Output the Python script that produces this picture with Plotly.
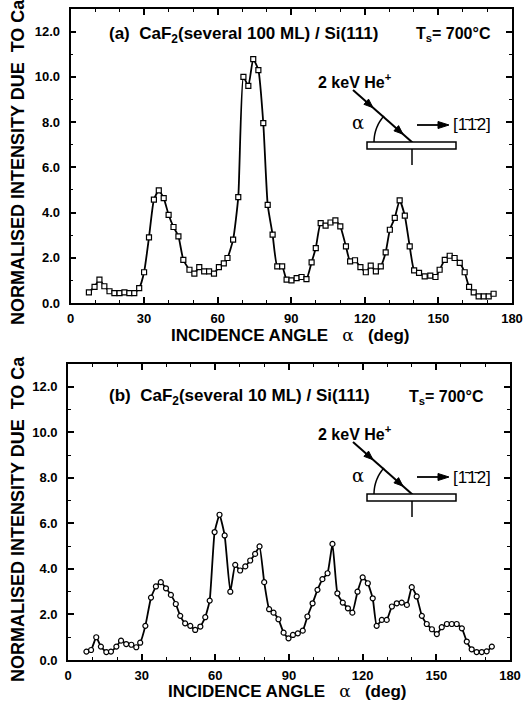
import numpy as np
import plotly.graph_objects as go

# ---------------- data ----------------
angle_a = [7.5, 9.8, 11.8, 13.8, 15.9, 17.9, 20, 22, 24, 26, 28, 30, 32, 34, 36, 38, 40, 42, 44, 46,
           48.5, 50.5, 52.5, 54.5, 56.5, 58.5, 60.5, 62.5, 64, 66.3, 68.4, 70.5, 72.5, 74.5, 76.6, 78.6,
           80.4, 82.4, 84.3, 86.3, 88.1, 90.1, 92.2, 94.2, 96.2, 98.3, 100, 102, 104, 106, 108, 110,
           112.3, 114, 116, 118.2, 120.4, 122.4, 124.5, 126.5, 128.5, 130.2, 132.2, 134.2, 136.3, 138.3,
           140.1, 142.1, 144.4, 146.7, 148.8, 150.5, 152.6, 154.6, 156.6, 158.7, 160.7, 162.5, 164.4,
           166.4, 168.5, 170.5, 172.5]
intensity_a = [0.47, 0.71, 1.03, 0.74, 0.52, 0.44, 0.44, 0.47, 0.44, 0.44, 0.66, 1.36, 2.9, 4.57, 4.98,
               4.64, 3.9, 3.36, 2.95, 1.91, 1.47, 1.3, 1.59, 1.4, 1.4, 1.3, 1.59, 1.75, 1.99, 2.8, 4.68,
               10.0, 9.6, 10.78, 10.3, 7.95, 4.34, 3.02, 1.62, 1.62, 1.03, 1.0, 1.1, 1.15, 1.06, 1.8,
               2.43, 3.53, 3.42, 3.56, 3.65, 3.39, 2.5, 1.84, 1.89, 1.59, 1.36, 1.65, 1.4, 1.62, 2.24,
               3.24, 3.76, 4.54, 3.86, 2.5, 1.44, 1.33, 1.18, 1.21, 1.15, 1.47, 1.91, 2.09, 1.99, 1.77,
               1.36, 0.71, 0.47, 0.29, 0.29, 0.29, 0.41]

angle_b = [7.5, 9.4, 11.5, 13.4, 15.6, 17.5, 19.7, 21.6, 23.7, 25.8, 27.8, 29.4, 31.5, 33.8, 35.8, 37.8,
           39.9, 41.9, 43.9, 45.7, 47.7, 49.8, 51.8, 53.9, 55.9, 57.7, 59.7, 61.7, 63.8, 66.1, 68.1,
           70.1, 72.2, 74.2, 76.2, 78, 79.9, 81.9, 83.7, 85.7, 87.8, 89.8, 91.6, 93.6, 95.6, 97.5,
           99.6, 101.6, 103.6, 105.7, 107.7, 109.7, 111.9, 114, 115.8, 117.9, 120, 122.1, 124.1, 125.7,
           127.8, 129.8, 131.9, 133.9, 135.9, 138, 140, 142, 144.1, 146.1, 148.2, 150.2, 152.2, 154.3,
           156.3, 158.3, 160.4, 162.4, 164.4, 166.4, 168.5, 170.5, 172.6]
intensity_b = [0.37, 0.44, 1.0, 0.59, 0.35, 0.37, 0.59, 0.85, 0.7, 0.67, 0.56, 0.76, 1.5, 2.74, 3.23,
               3.42, 3.15, 2.86, 2.46, 1.94, 1.61, 1.5, 1.32, 1.47, 1.88, 2.61, 5.62, 6.38, 5.47, 3.0,
               4.18, 3.93, 4.11, 4.37, 4.66, 4.99, 3.42, 2.23, 2.08, 1.79, 1.2, 0.95, 1.1, 1.17, 1.29,
               1.91, 2.49, 3.08, 3.55, 3.81, 5.1, 2.93, 2.52, 2.27, 2.08, 3.0, 3.63, 3.37, 2.71, 1.5,
               1.76, 1.76, 2.35, 2.49, 2.52, 2.42, 3.2, 2.79, 1.94, 1.58, 1.35, 1.14, 1.44, 1.58, 1.58,
               1.58, 1.39, 0.81, 0.47, 0.35, 0.35, 0.38, 0.59]

x_tick_vals = [0, 30, 60, 90, 120, 150, 180]
x_tick_text = ["0", "30", "60", "90", "120", "150", "180"]
y_tick_vals = [0, 2, 4, 6, 8, 10, 12]
y_tick_text = ["0.0", "2.0", "4.0", "6.0", "8.0", "10.0", "12.0"]

label_a = "(a)\u00a0\u00a0CaF<sub>2</sub>(several 100 ML) / Si(111)"
label_b = "(b)\u00a0\u00a0CaF<sub>2</sub>(several 10 ML) / Si(111)"
temp_label = "T<sub>s</sub>= 700°C"
y_title = "NORMALISED INTENSITY DUE\u00a0\u00a0TO Ca"
x_title = ("INCIDENCE ANGLE\u00a0\u00a0\u00a0<span style='font-family:DejaVu Serif;font-weight:normal'>α</span>"
           "\u00a0\u00a0\u00a0(deg)")

# ---------------- layout geometry ----------------
W, H = 531, 709
FONT = "Liberation Sans"
box_a = dict(l=70.5, r=512, t=9, b=303)
box_b = dict(l=68, r=510, t=364, b=660)


def dom(box):
    return [box["l"] / W, box["r"] / W], [1 - box["b"] / H, 1 - box["t"] / H]


fig = go.Figure()

fig.add_trace(go.Scatter(
    x=angle_a, y=intensity_a, mode="lines+markers", xaxis="x", yaxis="y",
    line=dict(color="black", width=1.8, shape="spline", smoothing=0.5),
    marker=dict(symbol="square", size=5, color="white", line=dict(color="black", width=1.2)),
    showlegend=False, hoverinfo="skip"))
fig.add_trace(go.Scatter(
    x=angle_b, y=intensity_b, mode="lines+markers", xaxis="x2", yaxis="y2",
    line=dict(color="black", width=1.8, shape="spline", smoothing=0.4),
    marker=dict(symbol="circle", size=5, color="white", line=dict(color="black", width=1.2)),
    showlegend=False, hoverinfo="skip"))

tickfont = dict(family=FONT, size=13, color="black", weight="bold")


def xaxis(domain, anchor):
    return dict(domain=domain, anchor=anchor, range=[0, 180], tickmode="array",
                tickvals=x_tick_vals, ticktext=x_tick_text, ticks="inside", ticklen=6,
                tickwidth=1.5, tickcolor="black", showline=True, linecolor="black", linewidth=1.8,
                mirror="ticks", showgrid=False, zeroline=False, tickfont=tickfont,
                ticklabelstandoff=2, automargin=False,
                minor=dict(tickmode="linear", tick0=0, dtick=10, ticks="inside", ticklen=3,
                           tickwidth=1.2, tickcolor="black", showgrid=False))


def yaxis(domain, anchor):
    return dict(domain=domain, anchor=anchor, range=[0, 13], tickmode="array",
                tickvals=y_tick_vals, ticktext=y_tick_text, ticks="inside", ticklen=6,
                tickwidth=1.5, tickcolor="black", showline=True, linecolor="black", linewidth=1.8,
                mirror="ticks", showgrid=False, zeroline=False, tickfont=tickfont,
                ticklabelstandoff=6, automargin=False,
                minor=dict(tickmode="linear", tick0=0, dtick=1, ticks="inside", ticklen=3,
                           tickwidth=1.2, tickcolor="black", showgrid=False))


xd_a, yd_a = dom(box_a)
xd_b, yd_b = dom(box_b)

annotations = []
shapes = []


def triangle(tip, direction, length=9, half=3.5):
    d = np.array(direction, dtype=float)
    d /= np.linalg.norm(d)
    n = np.array([-d[1], d[0]])
    tip = np.array(tip, dtype=float)
    b = tip - length * d
    p1, p2 = b + half * n, b - half * n
    return (f"M {tip[0]:.2f},{tip[1]:.2f} L {p1[0]:.2f},{p1[1]:.2f} "
            f"L {p2[0]:.2f},{p2[1]:.2f} Z")


for box, xr, yr in [(box_a, "x", "y"), (box_b, "x2", "y2")]:
    xdr, ydr = xr + " domain", yr + " domain"
    pw, ph = box["r"] - box["l"], box["b"] - box["t"]
    # panel header labels
    lbl = label_a if xr == "x" else label_b
    hy = 35 if xr == "x" else 397
    annotations.append(dict(text=lbl, xref=xdr, yref=ydr, x=(107 - box["l"]) / pw,
                            y=(box["b"] - hy) / ph, xanchor="left", yanchor="middle",
                            showarrow=False,
                            font=dict(family=FONT, size=17, color="black", weight="bold")))
    tx = 414 if xr == "x" else 407
    annotations.append(dict(text=temp_label, xref=xdr, yref=ydr, x=(tx - box["l"]) / pw,
                            y=(box["b"] - hy) / ph, xanchor="left", yanchor="middle",
                            showarrow=False,
                            font=dict(family=FONT, size=16, color="black", weight="bold")))

    # inset: anchored at the contact point of the beam on the surface (pixel geometry, y up)
    cx = 413
    cy = 143 if xr == "x" else 495
    fx, fy = (cx - box["l"]) / pw, (box["b"] - cy) / ph
    base = dict(xref=xdr, yref=ydr, xsizemode="pixel", ysizemode="pixel", xanchor=fx, yanchor=fy)
    # incoming beam
    shapes.append(dict(type="line", x0=-60, y0=53, x1=0, y1=0, line=dict(color="black", width=2), **base))
    # arrowheads on the beam
    for tip in [(-40, 35.3), (-10, 8.8)]:
        shapes.append(dict(type="path", path=triangle(tip, (60, -53)), fillcolor="black",
                           line=dict(color="black", width=1), **base))
    # sample
    shapes.append(dict(type="rect", x0=-46, x1=43, y0=1, y1=-6, line=dict(color="black", width=1.5),
                       fillcolor="white", **base))
    # normal below sample
    shapes.append(dict(type="line", x0=-1, x1=-1, y0=-6, y1=-22, line=dict(color="black", width=1.5), **base))
    # angle arc
    th = np.radians(np.linspace(180, 138, 12))
    pts = [(39 * np.cos(t), 39 * np.sin(t) + 1) for t in th]
    path = "M " + " L ".join(f"{px:.2f},{py:.2f}" for px, py in pts)
    shapes.append(dict(type="path", path=path, line=dict(color="black", width=1.5), **base))
    # direction arrow
    shapes.append(dict(type="line", x0=4, x1=28, y0=18, y1=18, line=dict(color="black", width=1.8), **base))
    shapes.append(dict(type="path", path=triangle((36, 18), (1, 0), length=11, half=3.5),
                       fillcolor="black", line=dict(color="black", width=1), **base))

    ann_base = dict(xref=xdr, yref=ydr, x=fx, y=fy)
    annotations.append(dict(text="[1\u03041\u03042]", showarrow=False, xshift=38, yshift=18,
                            xanchor="left", yanchor="middle",
                            font=dict(family=FONT, size=17, color="black"), **ann_base))
    annotations.append(dict(text="α", showarrow=False, xshift=-55, yshift=20, xanchor="center",
                            yanchor="middle", font=dict(family="DejaVu Serif", size=18, color="black"),
                            **ann_base))
    annotations.append(dict(text="2 keV He<sup>+</sup>", showarrow=False, xshift=-58, yshift=62,
                            xanchor="center", yanchor="middle",
                            font=dict(family=FONT, size=16, color="black", weight="bold"), **ann_base))

# axis titles
for cy in [162, 519]:
    annotations.append(dict(text=y_title, xref="paper", yref="paper", x=18 / W, y=1 - cy / H,
                            textangle=-90, showarrow=False, xanchor="center", yanchor="middle",
                            font=dict(family=FONT, size=18, color="black", weight="bold")))
for cx, cy in [(290, 335), (287, 691)]:
    annotations.append(dict(text=x_title, xref="paper", yref="paper", x=cx / W, y=1 - cy / H,
                            showarrow=False, xanchor="center", yanchor="middle",
                            font=dict(family=FONT, size=17, color="black", weight="bold")))

fig.update_layout(
    width=W, height=H, margin=dict(l=0, r=0, t=0, b=0, autoexpand=False),
    paper_bgcolor="white", plot_bgcolor="white",
    xaxis=xaxis(xd_a, "y"), yaxis=yaxis(yd_a, "x"),
    xaxis2=xaxis(xd_b, "y2"), yaxis2=yaxis(yd_b, "x2"),
    annotations=annotations, shapes=shapes,
)

fig.write_html("out.html")
